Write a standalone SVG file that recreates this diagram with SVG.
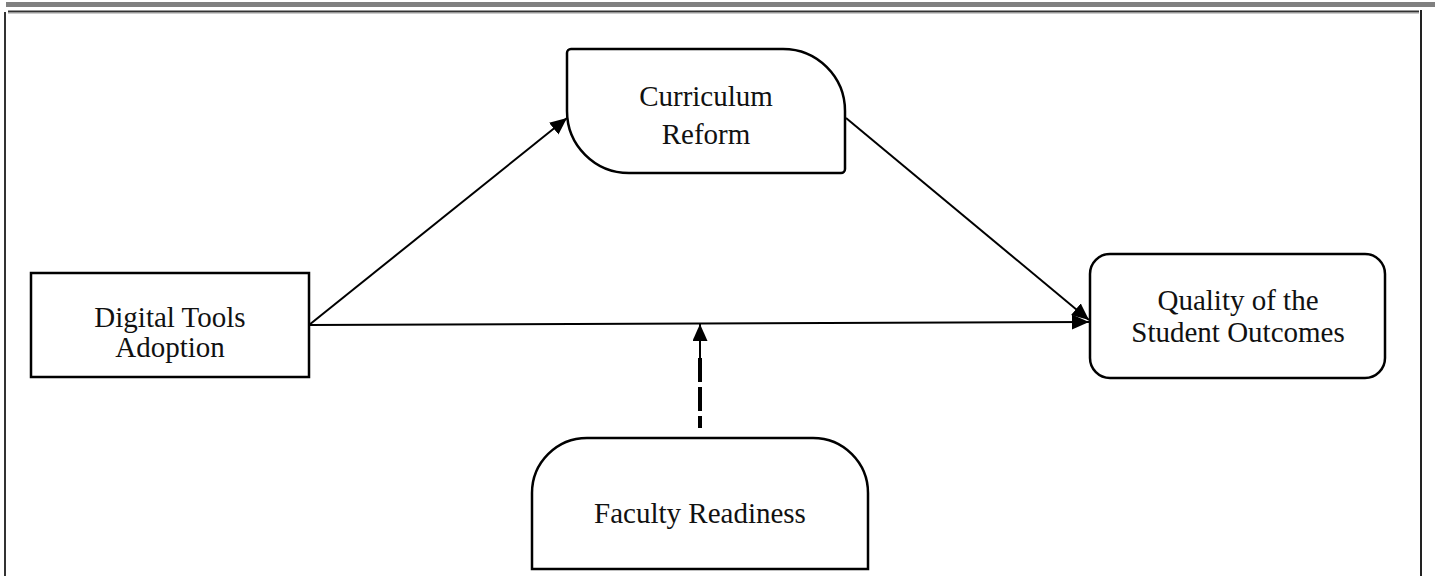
<svg xmlns="http://www.w3.org/2000/svg" width="1435" height="576" viewBox="0 0 1435 576">
<style>
.box{fill:#fff;stroke:#000;stroke-width:2.5}
.lbl{font-family:"Liberation Serif","Times New Roman",serif;font-size:29px;fill:#111;text-anchor:middle}
.conn{stroke:#000;stroke-width:2;fill:none}
.dash{stroke:#000;stroke-width:4;fill:none;stroke-dasharray:24 5}
</style>
<defs>
<marker id="ah" markerUnits="userSpaceOnUse" markerWidth="18" markerHeight="16" refX="17" refY="7.5" orient="auto">
<path d="M0,0 L17,7.5 L0,15 Z" fill="#000"/>
</marker>
</defs>
<rect width="1435" height="576" fill="#fff"/>
<g id="frame">
<rect x="6" y="2" width="1429" height="5" fill="#808080"/>
<line x1="8" y1="11.5" x2="1419" y2="11.5" stroke="#333" stroke-width="2"/>
<line x1="8" y1="13" x2="1419" y2="13" stroke="#999" stroke-width="1"/>
<line x1="5" y1="12" x2="5" y2="576" stroke="#333" stroke-width="2"/>
<line x1="1421" y1="10" x2="1421" y2="576" stroke="#222" stroke-width="2"/>
</g>
<g id="connectors">
<line class="conn" x1="309" y1="325" x2="1089" y2="322" marker-end="url(#ah)"/>
<line class="conn" x1="309" y1="325" x2="567" y2="118" marker-end="url(#ah)"/>
<line class="conn" x1="846" y1="118" x2="1089" y2="320" marker-end="url(#ah)"/>
<line class="conn" x1="700" y1="360" x2="700" y2="324" marker-end="url(#ah)"/>
<line class="dash" x1="700" y1="358" x2="700" y2="428"/>
</g>
<g id="node-digital">
<rect class="box" x="31" y="273" width="278" height="104"/>
<text class="lbl" x="170" y="327">Digital Tools</text>
<text class="lbl" x="170" y="357">Adoption</text>
</g>
<g id="node-curriculum">
<path class="box" d="M571,49 H783 A62,62 0 0 1 845,111 V169 A4,4 0 0 1 841,173 H629 A62,62 0 0 1 567,111 V53 A4,4 0 0 1 571,49 Z"/>
<text class="lbl" x="706" y="106">Curriculum</text>
<text class="lbl" x="706" y="144">Reform</text>
</g>
<g id="node-quality">
<rect class="box" x="1090" y="254" width="295" height="124" rx="20" ry="20"/>
<text class="lbl" x="1238" y="310">Quality of the</text>
<text class="lbl" x="1238" y="342">Student Outcomes</text>
</g>
<g id="node-faculty">
<path class="box" d="M532,569 V493 A55,55 0 0 1 587,438 H813 A55,55 0 0 1 868,493 V569 Z"/>
<text class="lbl" x="700" y="523">Faculty Readiness</text>
</g>
</svg>
